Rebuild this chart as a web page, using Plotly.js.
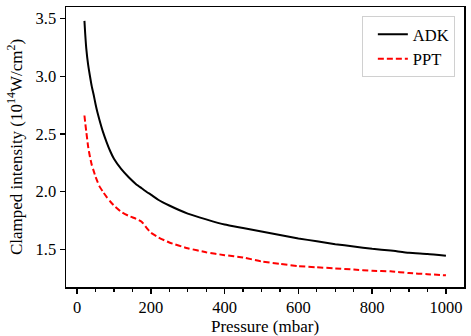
<!DOCTYPE html>
<html>
<head>
<meta charset="utf-8">
<script src="https://cdn.plot.ly/plotly-3.0.1.min.js"></script>
<style>html,body{margin:0;padding:0;background:#fff;}#chart{width:471px;height:336px;}</style>
</head>
<body>
<div id="chart"></div>
<script>
const pressure = [20,22,25,30,35,40,45,50,55,60,70,80,90,100,120,140,160,175,190,200,220,250,300,350,400,450,500,550,600,650,700,750,800,850,900,950,1000];
const adk = [3.48,3.37,3.24,3.10,3.00,2.91,2.84,2.76,2.69,2.63,2.52,2.43,2.35,2.285,2.195,2.125,2.065,2.03,1.995,1.975,1.93,1.88,1.81,1.76,1.715,1.685,1.655,1.625,1.595,1.57,1.545,1.525,1.505,1.49,1.47,1.46,1.445];
const ppt = [2.66,2.60,2.52,2.39,2.30,2.23,2.18,2.13,2.09,2.05,2.00,1.955,1.915,1.88,1.825,1.79,1.765,1.74,1.68,1.645,1.605,1.56,1.51,1.475,1.45,1.43,1.395,1.375,1.355,1.345,1.335,1.325,1.315,1.31,1.295,1.285,1.275];
const seriesNames = ["ADK","PPT"];
const xTicks = [0,200,400,600,800,1000];
const yTicks = [1.5,2.0,2.5,3.0,3.5];

const family = "Liberation Serif, Times New Roman, serif";
const tickFont = {family: family, size: 16.5, color: "#000"};
const titleFont = {family: family, size: 17, color: "#000"};
const data = [
  {x: pressure, y: adk, name: seriesNames[0], mode: "lines", line: {color: "#000", width: 2, shape: "spline", smoothing: 0.5}},
  {x: pressure, y: ppt, name: seriesNames[1], mode: "lines", line: {color: "#ff0000", width: 2, dash: "6px,3px", shape: "spline", smoothing: 0.5}}
];
const axisCommon = {
  showline: true, linecolor: "#000", linewidth: 1.5, mirror: true,
  ticks: "outside", ticklen: 5, tickwidth: 1.5, tickcolor: "#000",
  showgrid: false, zeroline: false, tickfont: tickFont
};
const layout = {
  width: 471, height: 336,
  margin: {l: 66, r: 7, t: 5, b: 48},
  paper_bgcolor: "#fff", plot_bgcolor: "#fff",
  font: tickFont,
  showlegend: true,
  legend: {x: 0.977, y: 0.968, xanchor: "right", yanchor: "top", bgcolor: "#fff", bordercolor: "#d0d0d0", borderwidth: 1, font: {family: family, size: 16.5, color: "#000"}, indentation: 10},
  xaxis: Object.assign({}, axisCommon, {
    automargin: true,
    range: [-30, 1049], tickvals: xTicks, ticktext: xTicks.map(String),
    minor: {dtick: 50, ticks: "outside", ticklen: 3, tickwidth: 1.2, tickcolor: "#000", showgrid: false},
    title: {text: "Pressure (mbar)", font: titleFont, standoff: 2}
  }),
  yaxis: Object.assign({}, axisCommon, {
    range: [1.174, 3.60], tickvals: yTicks, ticktext: yTicks.map(v => v.toFixed(1)),
    title: {text: "Clamped intensity (10<sup>14</sup>W/cm<sup>2</sup>)", font: titleFont, standoff: 8}
  })
};
Plotly.newPlot("chart", data, layout, {displayModeBar: false, staticPlot: true});
</script>
</body>
</html>
